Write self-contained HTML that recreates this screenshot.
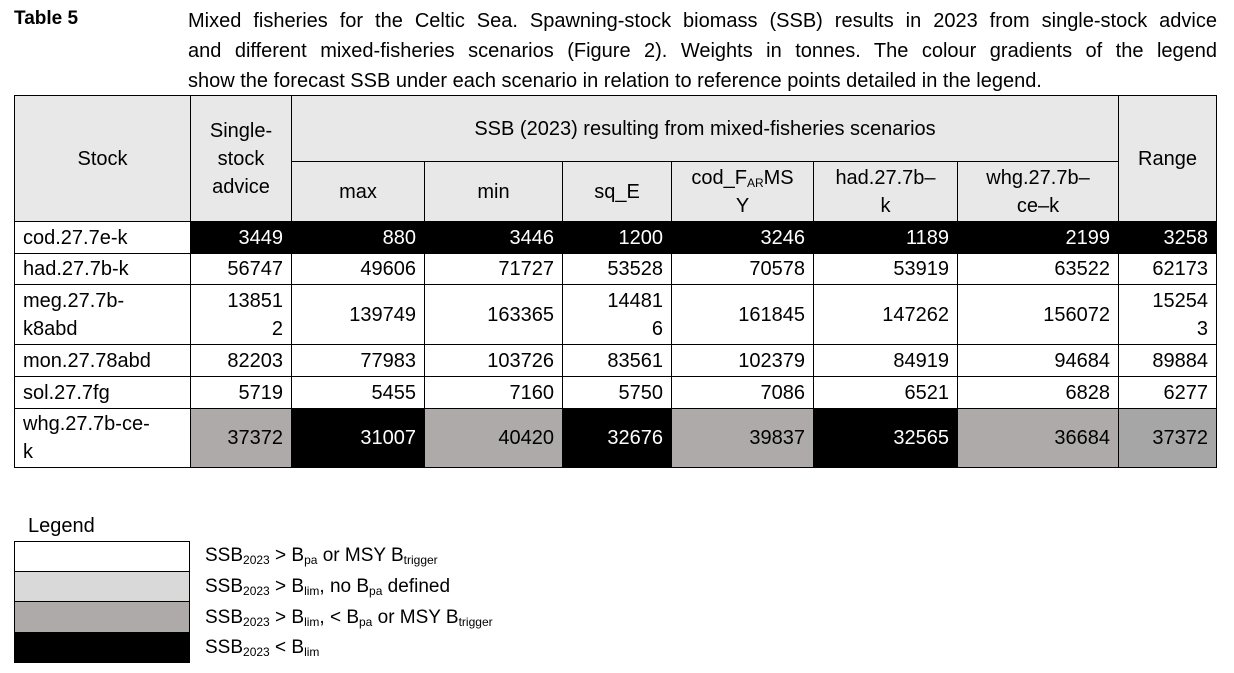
<!DOCTYPE html>
<html><head><meta charset="utf-8"><style>
body{margin:0;width:1234px;height:673px;background:#fff;position:relative;font-family:"Liberation Sans",sans-serif;color:#000;overflow:hidden}
.abs{position:absolute}
.cap div{height:30px;line-height:30px;font-size:20px;text-align:justify;text-align-last:justify;white-space:nowrap}
table{position:absolute;left:14px;top:95px;border-collapse:collapse;table-layout:fixed;font-size:20px}
td{border:1.5px solid #000;padding:0 8px;line-height:28px}
.h{background:#e8e8e8;text-align:center;vertical-align:middle;line-height:28px}
.n{text-align:right}
.k{background:#000;color:#fff}
.g{background:#aeaaaa}
.g2{background:#a6a6a6}
sub{font-size:12px;vertical-align:-3px;line-height:0}
.lg{position:absolute;left:14px;width:176px;border:1.5px solid #000;box-sizing:border-box}
.lt{position:absolute;left:205px;font-size:19px}
</style></head><body>
<div class="abs" style="left:14px;top:8px;font-weight:bold;font-size:19px">Table 5</div>
<div class="abs cap" style="left:188px;top:6px;width:1029px">
<div>Mixed fisheries for the Celtic Sea. Spawning-stock biomass (SSB) results in 2023 from single-stock advice</div>
<div>and different mixed-fisheries scenarios (Figure 2). Weights in tonnes. The colour gradients of the legend</div>
<div style="text-align-last:left">show the forecast SSB under each scenario in relation to reference points detailed in the legend.</div>
</div>
<table>
<colgroup><col style="width:176px"><col style="width:101px"><col style="width:133px"><col style="width:138px"><col style="width:109px"><col style="width:142px"><col style="width:144px"><col style="width:161px"><col style="width:98px"></colgroup>
<tr style="height:66px"><td class="h" rowspan="2">Stock</td><td class="h" rowspan="2">Single-<br>stock<br>advice</td><td class="h" colspan="6">SSB (2023) resulting from mixed-fisheries scenarios</td><td class="h" rowspan="2">Range</td></tr>
<tr style="height:60px"><td class="h">max</td><td class="h">min</td><td class="h">sq_E</td><td class="h">cod_F<sub>AR</sub>MS<br>Y</td><td class="h">had.27.7b–<br>k</td><td class="h">whg.27.7b–<br>ce–k</td></tr>
<tr style="height:32px"><td>cod.27.7e-k</td><td class="n k">3449</td><td class="n k">880</td><td class="n k">3446</td><td class="n k">1200</td><td class="n k">3246</td><td class="n k">1189</td><td class="n k">2199</td><td class="n k">3258</td></tr>
<tr style="height:31px"><td>had.27.7b-k</td><td class="n">56747</td><td class="n">49606</td><td class="n">71727</td><td class="n">53528</td><td class="n">70578</td><td class="n">53919</td><td class="n">63522</td><td class="n">62173</td></tr>
<tr style="height:60px"><td>meg.27.7b-<br>k8abd</td><td class="n">13851<br>2</td><td class="n">139749</td><td class="n">163365</td><td class="n">14481<br>6</td><td class="n">161845</td><td class="n">147262</td><td class="n">156072</td><td class="n">15254<br>3</td></tr>
<tr style="height:32px"><td>mon.27.78abd</td><td class="n">82203</td><td class="n">77983</td><td class="n">103726</td><td class="n">83561</td><td class="n">102379</td><td class="n">84919</td><td class="n">94684</td><td class="n">89884</td></tr>
<tr style="height:32px"><td>sol.27.7fg</td><td class="n">5719</td><td class="n">5455</td><td class="n">7160</td><td class="n">5750</td><td class="n">7086</td><td class="n">6521</td><td class="n">6828</td><td class="n">6277</td></tr>
<tr style="height:59px"><td>whg.27.7b-ce-<br>k</td><td class="n g">37372</td><td class="n k">31007</td><td class="n g">40420</td><td class="n k">32676</td><td class="n g">39837</td><td class="n k">32565</td><td class="n g">36684</td><td class="n g2">37372</td></tr>
</table>
<div class="abs" style="left:28px;top:515px;font-size:20px">Legend</div>
<div class="lg" style="top:541px;height:31px;background:#fff"></div>
<div class="lg" style="top:571px;height:31px;background:#d9d9d9"></div>
<div class="lg" style="top:601px;height:32px;background:#aeaaaa"></div>
<div class="lg" style="top:632px;height:31px;background:#000"></div>
<div class="lt" style="top:545px">SSB<sub>2023</sub> &gt; B<sub>pa</sub> or MSY B<sub>trigger</sub></div>
<div class="lt" style="top:576px">SSB<sub>2023</sub> &gt; B<sub>lim</sub>, no B<sub>pa</sub> defined</div>
<div class="lt" style="top:607px">SSB<sub>2023</sub> &gt; B<sub>lim</sub>, &lt; B<sub>pa</sub> or MSY B<sub>trigger</sub></div>
<div class="lt" style="top:637px">SSB<sub>2023</sub> &lt; B<sub>lim</sub></div>
</body></html>
